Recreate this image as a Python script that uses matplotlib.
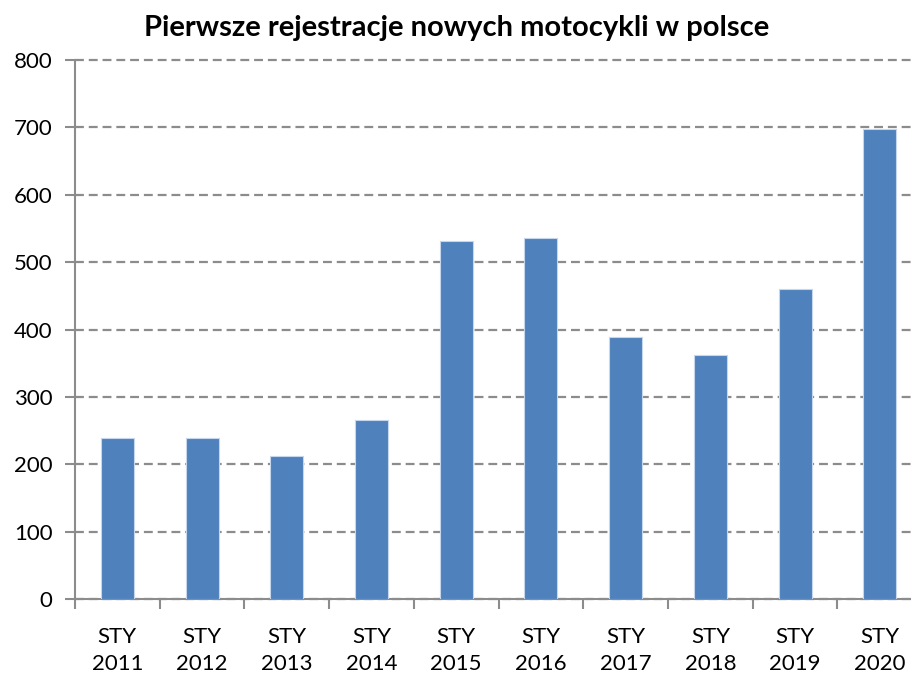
import matplotlib
matplotlib.use('Agg')
import matplotlib.pyplot as plt
import numpy as np

# data
categories = ['STY\n2011', 'STY\n2012', 'STY\n2013', 'STY\n2014', 'STY\n2015',
              'STY\n2016', 'STY\n2017', 'STY\n2018', 'STY\n2019', 'STY\n2020']
registrations = [239, 239, 212, 265, 532, 536, 389, 362, 460, 698]
y_ticks = [0, 100, 200, 300, 400, 500, 600, 700, 800]

plt.rcParams['font.family'] = ['Lato', 'DejaVu Sans']

fig = plt.figure(figsize=(9.12, 6.75), dpi=100, facecolor='white')
# right part of the axes runs past the picture edge, as in the reference
ax = fig.add_axes([0.0822, 0.1126, 0.929, 0.7985])

x = np.arange(len(categories))
ax.bar(x, registrations, width=0.39, color='#4f81bd', edgecolor='#c6d6ec',
       linewidth=0.8, zorder=3)

ax.set_xlim(-0.5, len(categories) - 0.5)
ax.set_ylim(0, 800)
ax.set_yticks(y_ticks)
ax.set_yticklabels([str(v) for v in y_ticks], fontsize=16)

# category labels centred, ticks on the boundaries
ax.set_xticks(x)
ax.set_xticklabels(categories, fontsize=16, linespacing=1.45)
ax.set_xticks(np.arange(len(categories) + 1) - 0.5, minor=True)
ax.tick_params(axis='x', which='major', length=0, pad=20)
ax.tick_params(axis='x', which='minor', length=7, width=1.5, color='#8c8c8c', direction='out')
ax.tick_params(axis='y', length=7, width=1.5, color='#8c8c8c', direction='out', pad=9)

ax.grid(axis='y', color='#8c8c8c', linestyle=(0, (4, 2.2)), linewidth=1.6, zorder=0)
for line in ax.get_ygridlines():
    line.set_clip_on(False)
for s in ['top', 'right']:
    ax.spines[s].set_visible(False)
ax.spines['left'].set_color('#8c8c8c')
ax.spines['bottom'].set_color('#8c8c8c')
ax.spines['left'].set_linewidth(1.5)
ax.spines['bottom'].set_linewidth(1.5)

fig.text(0.501, 0.958, 'Pierwsze rejestracje nowych motocykli w polsce',
         ha='center', va='center', fontsize=21, fontweight='bold')

fig.savefig('out.png', dpi=100, facecolor='white')
